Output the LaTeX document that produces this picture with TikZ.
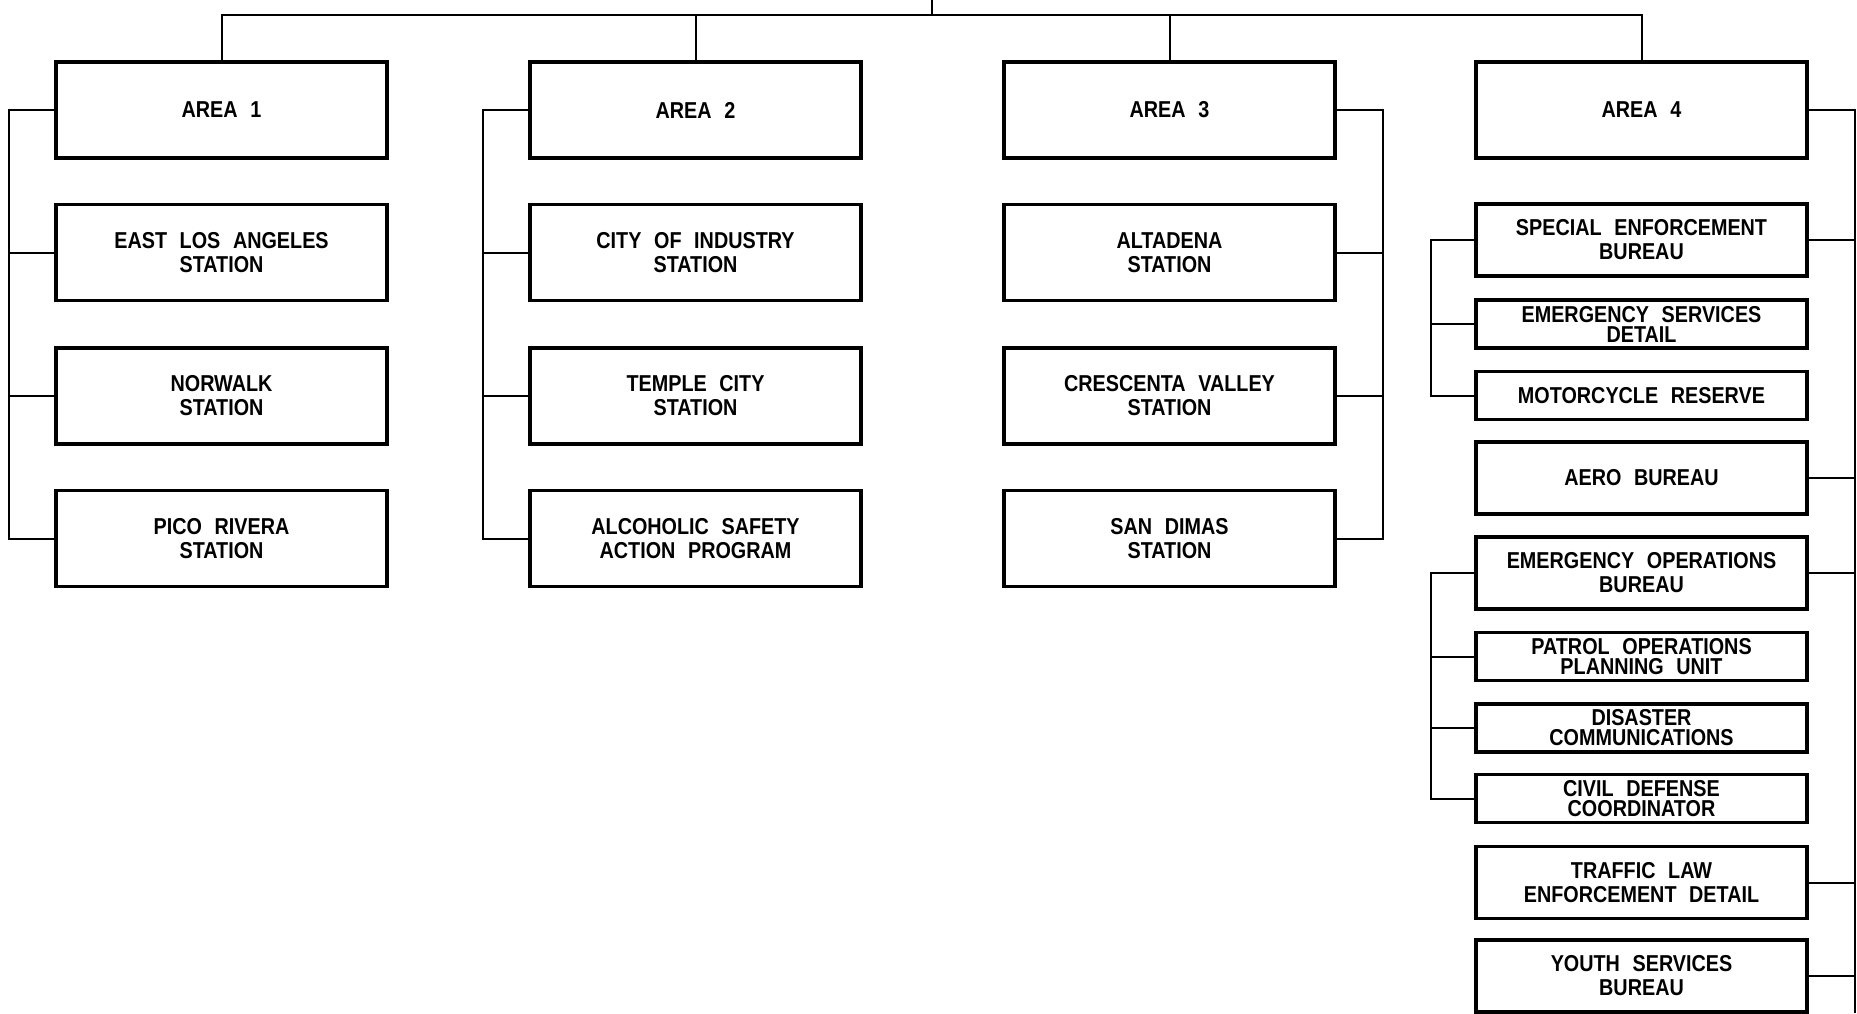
\documentclass[tikz,border=0pt]{standalone}
\usepackage{fontspec}
\setmainfont{Liberation Sans}[FakeStretch=0.86,WordSpace=2.3]
\usepackage{tikz}
\tikzset{
  orgbox/.style={draw,line width=1.6pt,inner sep=0pt,minimum width=165.5pt,align=center,
    font=\bfseries\fontsize{11.5}{12}\selectfont},
  bigbox/.style={orgbox,minimum height=48pt},
  midbox/.style={orgbox,minimum height=36pt},
  lowbox/.style={orgbox,minimum height=24pt,font=\bfseries\fontsize{11.5}{10}\selectfont},
  link/.style={line width=1pt}
}

\begin{document}
\begin{tikzpicture}[x=0.5pt,y=-0.5pt]
\useasboundingbox (0,0) rectangle (1857,1013);
% area heads
\foreach \cx [count=\c] in {221.5,695.5,1169.5,1641.5}
   \node[bigbox] (area\c) at (\cx,110) {AREA \c};
% stations of areas 1-3
\foreach \cx/\ta/\tb/\tc [count=\c] in {
   221.5/{EAST LOS ANGELES\\STATION}/{NORWALK\\STATION}/{PICO RIVERA\\STATION},
   695.5/{CITY OF INDUSTRY\\STATION}/{TEMPLE CITY\\STATION}/{ALCOHOLIC SAFETY\\ACTION PROGRAM},
   1169.5/{ALTADENA\\STATION}/{CRESCENTA VALLEY\\STATION}/{SAN DIMAS\\STATION}}{
   \node[bigbox] (st\c1) at (\cx,252.5) {\ta};
   \node[bigbox] (st\c2) at (\cx,396) {\tb};
   \node[bigbox] (st\c3) at (\cx,538.5) {\tc};
}
% area 4 units
\node[midbox] (seb) at (1641.5,240) {SPECIAL ENFORCEMENT\\BUREAU};
\node[lowbox] (esd) at (1641.5,324) {EMERGENCY SERVICES\\DETAIL};
\node[lowbox] (mcr) at (1641.5,395.5) {MOTORCYCLE RESERVE};
\node[midbox] (aero) at (1641.5,478) {AERO BUREAU};
\node[midbox] (eob) at (1641.5,573) {EMERGENCY OPERATIONS\\BUREAU};
\node[lowbox] (popu) at (1641.5,656.5) {PATROL OPERATIONS\\PLANNING UNIT};
\node[lowbox] (dcom) at (1641.5,728) {DISASTER\\COMMUNICATIONS};
\node[lowbox] (cdc) at (1641.5,798.5) {CIVIL DEFENSE\\COORDINATOR};
\node[midbox] (tled) at (1641.5,882.5) {TRAFFIC LAW\\ENFORCEMENT DETAIL};
\node[midbox] (ysb) at (1641.5,976) {YOUTH SERVICES\\BUREAU};

% top bus
\coordinate (top) at (932,0);
\coordinate (bus) at (932,14.5);
\draw[link] (top) -- (bus);
\draw[link] (area1.north) -- (area1.north |- bus) -- (area4.north |- bus) -- (area4.north);
\foreach \c in {2,3}\draw[link] (area\c.north) -- (area\c.north |- bus);

% rails of areas 1-3
\foreach \c/\side/\rx in {1/west/9,2/west/483,3/east/1383}{
   \coordinate (rail\c) at (\rx,0);
   \draw[link] (area\c.\side) -- (area\c.\side -| rail\c) -- (st\c3.\side -| rail\c) -- (st\c3.\side);
   \foreach \r in {1,2}\draw[link] (st\c\r.\side) -- (st\c\r.\side -| rail\c);
}
% rail of area 4
\coordinate (rail4) at (1855,1013);
\draw[link] (area4.east) -- (area4.east -| rail4) -- (rail4);
\foreach \u in {seb,aero,eob,tled,ysb}\draw[link] (\u.east) -- (\u.east -| rail4);
% sub rails
\coordinate (subrail) at (1431,0);
\draw[link] (seb.west) -- (seb.west -| subrail) -- (mcr.west -| subrail) -- (mcr.west);
\draw[link] (esd.west) -- (esd.west -| subrail);
\draw[link] (eob.west) -- (eob.west -| subrail) -- (cdc.west -| subrail) -- (cdc.west);
\foreach \u in {popu,dcom}\draw[link] (\u.west) -- (\u.west -| subrail);
\end{tikzpicture}
\end{document}
